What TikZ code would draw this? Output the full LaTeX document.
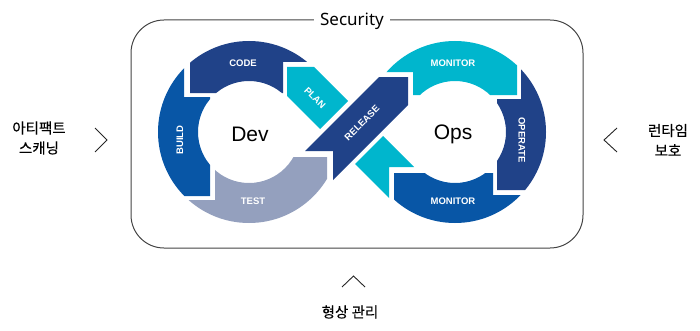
\documentclass[tikz,border=0pt]{standalone}
\usepackage{fontspec}
\setmainfont{Liberation Sans}
\newfontfamily\krfont[FakeBold=0.3]{Noto Sans CJK KR}
\newfontfamily\secfont{Noto Sans}
\definecolor{navyc}{HTML}{204288}
\definecolor{bluec}{HTML}{0856A6}
\definecolor{cyanc}{HTML}{00B6CD}
\definecolor{grayc}{HTML}{94A0BE}
\definecolor{framec}{HTML}{444444}
\begin{document}
\begin{tikzpicture}[x=1pt,y=1pt,
  lbl/.style={text=white, inner sep=0pt, font=\bfseries\fontsize{9.5}{11}\selectfont},
  big/.style={text=black, inner sep=0pt, font=\fontsize{21}{24}\selectfont},
  kr/.style={text=black, align=center, inner sep=0pt, font=\krfont\fontsize{14.5}{20}\selectfont},
  chev/.style={draw=black!85, line width=0.9pt},
  frame/.style={draw=framec, line width=1pt, rounded corners=33pt}]
\useasboundingbox (0,0) rectangle (700,330);

% frame
\draw[frame] (131,82) rectangle (583,310);
\node[fill=white, inner xsep=6pt, inner ysep=3pt, anchor=base, font=\secfont\fontsize{17}{20}\selectfont] (sec) at (352,304) {Security};

% ---------- Dev ring ----------
% CODE
\begin{scope}
\clip (190,237) -- (283,237) -- (283,268) -- (345,268) -- (345,300) -- (190,300) -- cycle;
\fill[navyc, even odd rule] (249,198) circle[radius=91] (249,198) circle[radius=51];
\end{scope}
% BUILD
\begin{scope}
\clip (140,134) -- (210,134) -- (210,233) -- (184,233) -- (184,300) -- (140,300) -- cycle;
\fill[bluec, even odd rule] (249,198) circle[radius=91] (249,198) circle[radius=51];
\end{scope}
% TEST
\begin{scope}
\clip (140,95) -- (140,130) -- (215,130) -- (215,173) -- (327,173) -- (327,95) -- cycle;
\fill[grayc, even odd rule] (249,198) circle[radius=91] (249,198) circle[radius=51];
\end{scope}

% ---------- crossing bands ----------
\fill[cyanc] (287,263) -- (314,263) -- (348,229) -- (320,201) -- (287,234) -- cycle;
\fill[navyc] (305,179) -- (333,179) -- (333,150) -- (408,225) -- (408,253) -- (379,253) -- cycle;
\fill[cyanc] (355,166) -- (383,194) -- (414,163) -- (389,163) -- (389,132) -- cycle;

% ---------- Ops ring ----------
% MONITOR top
\begin{scope}
\clip (360,258) -- (413,258) -- (413,235) -- (517,235) -- (517,300) -- (360,300) -- cycle;
\fill[cyanc, even odd rule] (455,198) circle[radius=91] (455,198) circle[radius=51];
\end{scope}
% OPERATE
\begin{scope}
\clip (497,140) -- (570,140) -- (570,300) -- (521,300) -- (521,231) -- (497,231) -- cycle;
\fill[navyc, even odd rule] (455,198) circle[radius=91] (455,198) circle[radius=51];
\end{scope}
% MONITOR bottom
\begin{scope}
\clip (394,157) -- (493,157) -- (493,135) -- (570,135) -- (570,90) -- (394,90) -- cycle;
\fill[bluec, even odd rule] (455,198) circle[radius=91] (455,198) circle[radius=51];
\end{scope}

% ---------- labels ----------
\node[lbl] (code) at (243,267) {CODE};
\node[lbl, rotate=90] (build) at (180,190) {BUILD};
\node[lbl] (test) at (253,129) {TEST};
\node[lbl, rotate=-45] (plan) at (315,232) {PLAN};
\node[lbl, rotate=45] (release) at (362,207) {RELEASE};
\node[lbl] (montop) at (453,267) {MONITOR};
\node[lbl, rotate=-90] (operate) at (522,190) {OPERATE};
\node[lbl] (monbot) at (453,129) {MONITOR};
\node[big] (dev) at (250,196) {Dev};
\node[big] (ops) at (453,196) {Ops};

% ---------- side texts ----------
\node[kr] (scan) at (39,192) {아티팩트\\스캐닝};
\node[kr] (runtime) at (668,190) {런타임\\보호};
\node[kr] (config) at (350,18) {형상 관리};

\draw[chev] (95,202) -- (107,190) -- (95,178);
\draw[chev] (617,202) -- (604,190) -- (617,178);
\draw[chev] (342,43) -- (353.5,54) -- (365,43);
\end{tikzpicture}
\end{document}
